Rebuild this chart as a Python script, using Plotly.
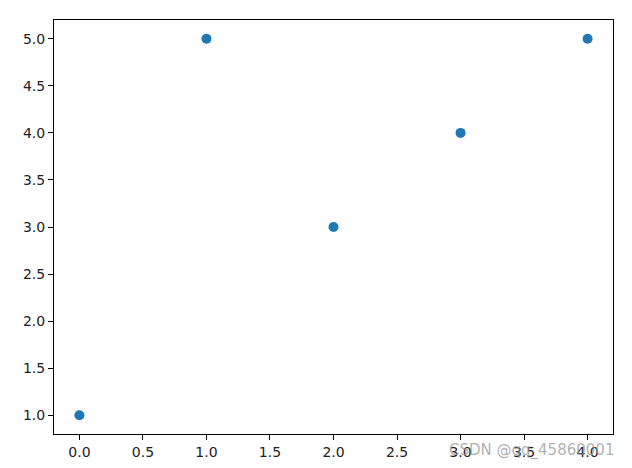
import plotly.graph_objects as go

x_vals = [0, 1, 2, 3, 4]
y_vals = [1, 5, 3, 4, 5]
x_ticks = [0.0, 0.5, 1.0, 1.5, 2.0, 2.5, 3.0, 3.5, 4.0]
y_ticks = [1.0, 1.5, 2.0, 2.5, 3.0, 3.5, 4.0, 4.5, 5.0]
watermark = "CSDN @qq_45860001"

fig = go.Figure()
fig.add_trace(go.Scatter(
    x=x_vals, y=y_vals, mode="markers",
    marker=dict(color="#1f77b4", size=10, line=dict(width=0)),
))

axis_common = dict(
    showgrid=False, zeroline=False, showline=True, linecolor="black", linewidth=1,
    mirror=True, ticks="outside", ticklen=5, tickwidth=1, tickcolor="black",
    automargin=False,
    tickfont=dict(family="DejaVu Sans", size=14, color="#222"),
)
fig.update_xaxes(range=[-0.2, 4.2], tickvals=x_ticks,
                 ticktext=[f"{v:.1f}" for v in x_ticks], **axis_common)
fig.update_yaxes(range=[0.8, 5.2], tickvals=y_ticks,
                 ticktext=[f"{v:.1f}" for v in y_ticks], **axis_common)

fig.add_annotation(
    text=watermark, xref="paper", yref="paper", x=1.006, y=-0.04,
    xanchor="right", yanchor="middle", showarrow=False,
    font=dict(family="DejaVu Sans", size=15, color="rgba(150,150,150,0.75)"),
)

fig.update_layout(
    width=632, height=468,
    margin=dict(l=54, r=19, t=20, b=34),
    paper_bgcolor="white", plot_bgcolor="white",
    showlegend=False,
)
fig.write_html(
    "out.html",
    config={"displayModeBar": False},
    post_script="document.body.style.margin='0';document.body.style.overflow='hidden';",
)
